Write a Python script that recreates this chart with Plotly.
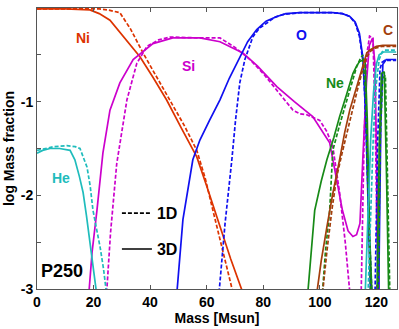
import plotly.graph_objects as go

# ── abundance profiles (log mass fraction vs mass coordinate) ─────────────

ni_3d_m = [0, 10, 18.7, 22, 25.8, 30, 36.4, 41, 45.8, 51, 56.5, 60, 64.7, 68.5, 73.5]
ni_3d_y = [-0.01, -0.01, -0.02, -0.06, -0.13, -0.28, -0.52, -0.74, -0.98, -1.28, -1.59, -1.90, -2.34, -2.68, -3.1]
ni_1d_m = [0, 10, 22, 25, 29.3, 33, 37.5, 42, 47, 52, 56.5, 59.5, 62.2, 65.5, 69.8]
ni_1d_y = [-0.01, -0.01, -0.01, -0.02, -0.05, -0.22, -0.48, -0.72, -0.98, -1.25, -1.52, -1.82, -2.16, -2.55, -3.1]

si_3d_m = [18.2, 19.5, 21.2, 23.3, 25.8, 29.3, 34, 41, 48, 57.6, 64.7, 72.8, 78, 84.8, 91, 97.5, 103.5,
           104.6, 106, 108, 110, 111.7, 113, 114.2, 115.2, 116.5, 117.5, 118.7, 119.5, 120.2, 121]
si_3d_y = [-3.1, -2.6, -2.16, -1.55, -1.09, -0.80, -0.55, -0.38, -0.32, -0.32, -0.36, -0.48, -0.62, -0.84, -1.0,
           -1.16, -1.44, -1.62, -1.85, -2.16, -2.38, -2.44, -2.42, -2.3, -1.62, -0.8, -0.4, -0.32, -0.6, -1.8, -3.1]
si_1d_m = [24.5, 26, 28.2, 30, 31.8, 35.3, 38.9, 43, 47, 57.6, 64.7, 70, 75.3, 80, 84.8, 88, 90.5, 93, 95.4,
           100, 102.5, 104.6, 107, 109, 110.8, 114.6, 115.6, 116.6, 117.6, 118.8, 119.6, 120.6]
si_1d_y = [-3.1, -2.4, -1.66, -1.3, -0.98, -0.59, -0.41, -0.34, -0.31, -0.32, -0.32, -0.42, -0.55, -0.70, -0.88,
           -1.0, -1.09, -1.13, -1.14, -1.20, -1.32, -1.48, -1.97, -2.5, -3.1, -3.1, -1.5, -0.5, -0.3, -0.32, -1.2, -3.1]

o_3d_m = [49.3, 51.6, 55.1, 57.6, 61, 64.7, 68, 71.7, 74.5, 77.7, 81, 84.8, 88, 93, 100, 104.6, 108, 110.6,
          112.5, 114, 115.2, 116.2, 117, 118, 119.5, 120.8, 121.6, 122.3, 123.5, 127]
o_3d_y = [-3.1, -2.26, -1.62, -1.41, -1.2, -0.98, -0.75, -0.52, -0.36, -0.23, -0.14, -0.09, -0.06, -0.05, -0.05,
          -0.05, -0.06, -0.09, -0.15, -0.27, -0.52, -1.1, -2.0, -3.1, -3.1, -3.1, -1.2, -0.6, -0.55, -0.55]
o_1d_m = [64.2, 66.5, 68.9, 70.2, 71.7, 73.5, 76.3, 78.5, 81.3, 84, 87, 93, 100, 104.6, 108, 110.6, 112.5,
          114, 115.4, 116.4, 117.4, 118.5, 119.5, 120.5, 121.3, 122, 123, 127]
o_1d_y = [-3.1, -2.3, -1.62, -1.2, -0.80, -0.55, -0.31, -0.22, -0.16, -0.10, -0.07, -0.05, -0.05, -0.05, -0.06,
          -0.09, -0.16, -0.3, -0.6, -1.3, -2.3, -3.1, -3.1, -1.4, -0.65, -0.58, -0.56, -0.56]

ne_3d_m = [95.6, 98.2, 100.5, 102.5, 105, 107, 109.5, 111.7, 113, 114.1, 116, 116.8, 117.6, 118.5,
           120.2, 121, 121.8, 122.8, 123.6, 124.4]
ne_3d_y = [-3.1, -2.16, -1.85, -1.62, -1.38, -1.16, -0.92, -0.70, -0.62, -0.57, -0.55, -1.2, -2.4, -3.1,
           -3.1, -1.5, -0.7, -0.68, -1.8, -3.1]
ne_1d_m = [100.8, 102, 103.5, 104.6, 107, 109.5, 111.5, 113, 114.2, 115.2, 116.2, 117, 118,
           120.6, 121.4, 122.2, 123.2, 124, 124.8]
ne_1d_y = [-3.1, -2.6, -2.16, -1.52, -1.25, -0.98, -0.78, -0.63, -0.55, -0.50, -0.9, -2.0, -3.1,
           -3.1, -1.4, -0.75, -0.72, -1.9, -3.1]

c_3d_m = [98.7, 100.5, 102.5, 104.6, 107, 108.8, 110.6, 112.5, 114.1, 115.5, 116.6, 117.6, 118.7, 120, 122.3, 127]
c_3d_y = [-3.1, -2.7, -2.34, -1.98, -1.62, -1.33, -1.09, -0.9, -0.73, -0.58, -0.48, -0.45, -0.43, -0.41, -0.40, -0.40]
c_1d_m = [100.8, 102.5, 104.3, 106, 107.8, 109.5, 111.2, 113, 114.8, 116.6, 118, 119.5, 122, 127]
c_1d_y = [-3.1, -2.6, -2.15, -1.80, -1.56, -1.34, -1.12, -0.91, -0.70, -0.52, -0.46, -0.43, -0.41, -0.41]

he_3d_m = [0, 2, 4.6, 8, 11.7, 13.4, 15, 16.3, 17.5, 18.7, 20, 21.3,
           116, 117, 118, 119, 120, 121, 122.5, 127]
he_3d_y = [-1.55, -1.52, -1.50, -1.50, -1.52, -1.62, -1.80, -1.97, -2.22, -2.51, -2.78, -3.1,
           -3.1, -2.2, -1.4, -0.9, -0.6, -0.5, -0.47, -0.47]
he_1d_m = [0, 3, 6, 10.6, 13.5, 15.2, 16.3, 17.7, 18.8, 19.8, 21, 22.3, 23.5, 24.8,
           117, 118, 119, 120, 121, 122, 123, 127]
he_1d_y = [-1.52, -1.50, -1.48, -1.47, -1.48, -1.50, -1.58, -1.70, -1.9, -2.16, -2.35, -2.55, -2.78, -3.1,
           -3.1, -2.1, -1.3, -0.8, -0.55, -0.47, -0.45, -0.45]

species = [
    ("Ni", "#dd3300", ni_3d_m, ni_3d_y, ni_1d_m, ni_1d_y),
    ("Si", "#cc00cc", si_3d_m, si_3d_y, si_1d_m, si_1d_y),
    ("O", "#1010f0", o_3d_m, o_3d_y, o_1d_m, o_1d_y),
    ("Ne", "#178a17", ne_3d_m, ne_3d_y, ne_1d_m, ne_1d_y),
    ("C", "#a33e0c", c_3d_m, c_3d_y, c_1d_m, c_1d_y),
    ("He", "#1fbcbc", he_3d_m, he_3d_y, he_1d_m, he_1d_y),
]

# label centres (data coords) for the species names
label_pos = {"Ni": (16.3, -0.32), "Si": (53.4, -0.62), "O": (93.6, -0.29),
             "Ne": (105.3, -0.80), "C": (124, -0.23), "He": (8.5, -1.81)}

FONT = "Liberation Sans, Arial, sans-serif"

fig = go.Figure()

for name, col, m3, y3, m1, y1 in species:
    fig.add_trace(go.Scatter(x=m1, y=y1, mode="lines", showlegend=False,
                             line=dict(color=col, width=1.7, dash="4px,2px")))
    fig.add_trace(go.Scatter(x=m3, y=y3, mode="lines", showlegend=False,
                             line=dict(color=col, width=1.7)))
    lx, ly = label_pos[name]
    fig.add_annotation(x=lx, y=ly, text="<b>%s</b>" % name, showarrow=False,
                       font=dict(color=col, size=14, family=FONT))

# legend entries for the model type
fig.add_trace(go.Scatter(x=[None], y=[None], mode="lines", name="<b>1D</b>", legendgroup="a",
                         line=dict(color="black", width=1.6, dash="4px,2px")))
fig.add_trace(go.Scatter(x=[None], y=[None], mode="lines", name="<b>3D</b>", legendgroup="b",
                         line=dict(color="black", width=1.6)))

fig.add_annotation(x=0.005, y=0.02, xref="paper", yref="paper", text="<b>P250</b>",
                   showarrow=False, xanchor="left", yanchor="bottom",
                   font=dict(color="black", size=18, family=FONT))

axis_common = dict(showgrid=False, zeroline=False, showline=True, linecolor="#555555",
                   linewidth=1, mirror="ticks", ticks="inside", ticklen=4,
                   tickcolor="#555555", tickfont=dict(size=14, color="black", family=FONT))

fig.update_xaxes(range=[0, 127.3], tickvals=[0, 20, 40, 60, 80, 100, 120],
                 ticktext=["<b>%d</b>" % v for v in [0, 20, 40, 60, 80, 100, 120]],
                 title=dict(text="<b>Mass [Msun]</b>", standoff=4,
                            font=dict(size=14, color="black", family=FONT)),
                 **axis_common)
fig.update_yaxes(range=[-3, 0], tickvals=[-3, -2.5, -2, -1.5, -1, -0.5, 0],
                 ticktext=["<b>-3</b>", "", "<b>-2</b>", "", "<b>-1</b>", "", "<b>0</b>"],
                 title=dict(text="<b>log Mass fraction</b>", standoff=2,
                            font=dict(size=14, color="black", family=FONT)),
                 **axis_common)

fig.update_layout(
    width=399, height=329,
    margin=dict(l=37, r=2, t=8, b=40),
    plot_bgcolor="white", paper_bgcolor="white",
    font=dict(family=FONT),
    legend=dict(x=0.222, y=0.33, xanchor="left", yanchor="top", bgcolor="rgba(0,0,0,0)",
                font=dict(size=16, color="black", family=FONT), tracegroupgap=12,
                itemwidth=30),
)

fig.write_html("out.html", config={"displayModeBar": False},
               post_script="document.body.style.margin='0';")
